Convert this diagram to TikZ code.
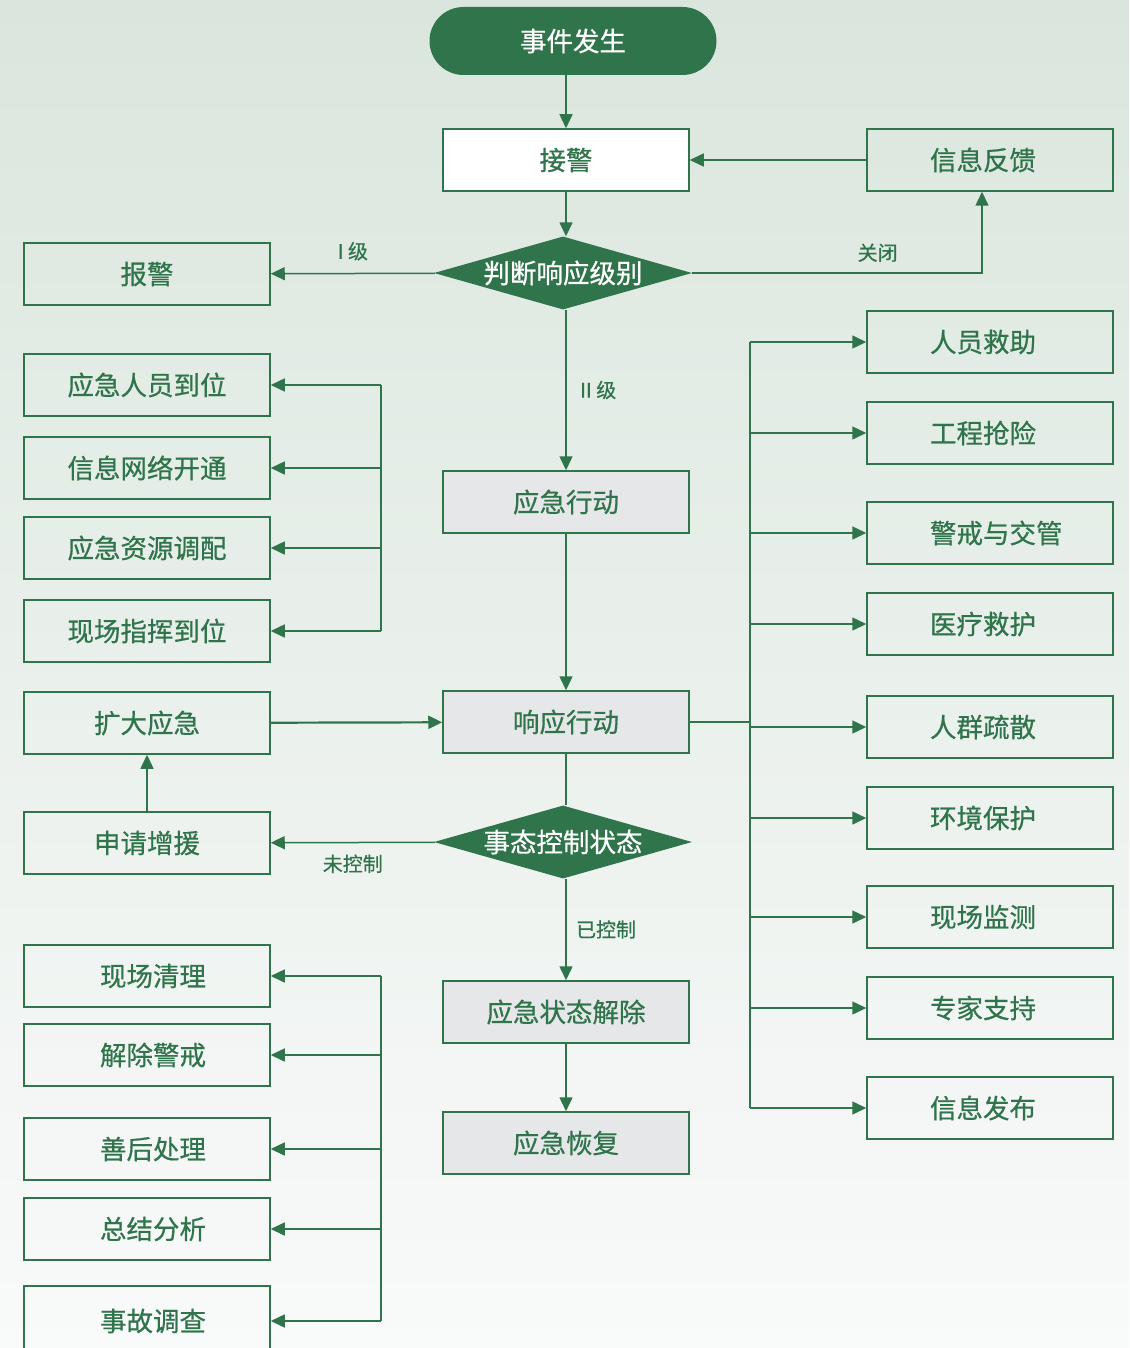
\documentclass[tikz,border=0pt]{standalone}
\usepackage{fontspec}
\setmainfont{Noto Sans CJK SC}[FakeBold=0.6]
\usetikzlibrary{shapes.geometric,arrows.meta,positioning}
\definecolor{flowgreen}{HTML}{2F744A}
\definecolor{boxgray}{HTML}{E6E7E9}
\definecolor{bgtop}{HTML}{DAE6DD}
\definecolor{bgbottom}{HTML}{F9FAFA}

\begin{document}
\begin{tikzpicture}[x=1pt,y=-1pt,
	stepbox/.style={rectangle, draw=flowgreen, line width=1.5pt, minimum width=246pt, minimum height=62pt, inner sep=0pt, text=flowgreen, font=\fontsize{26.5}{30}\selectfont},
	rightbox/.style={stepbox, text width=120pt, align=left},
	actbox/.style={stepbox, fill=boxgray},
	startnode/.style={rectangle, rounded corners=34pt, fill=flowgreen, minimum width=287pt, minimum height=68pt, text=white, font=\fontsize{26.5}{30}\selectfont},
	decnode/.style={diamond, aspect=3.6, fill=flowgreen, inner sep=0pt, minimum width=258pt, minimum height=73pt, text=white, font=\fontsize{26.5}{30}\selectfont},
	lbl/.style={text=flowgreen, font=\fontsize{20}{24}\selectfont},
	line/.style={draw=flowgreen, line width=1.5pt},
	flow/.style={line, -{Triangle[length=14pt,width=13pt]}},
	]
	
	\useasboundingbox (0,0) rectangle (1129,1348);
	\shade[top color=bgtop, bottom color=bgbottom] (0,0) rectangle (1129,1348);
	
	%Nodes
	\node[startnode] (Start) at (573,41) {事件发生};
	\node[stepbox, fill=white] (Receive) at (566,160) {接警};
	\node[rightbox] (Feedback) at (990,160) {信息反馈};
	\node[decnode] (Judge) at (563,273) {判断响应级别};
	\node[stepbox] (Alarm) at (147,274) {报警};
	\node[actbox] (EmergAct) at (566,502) {应急行动};
	\node[actbox] (RespAct) at (566,722) {响应行动};
	\node[decnode] (Control) at (563,842) {事态控制状态};
	\node[actbox] (Release) at (566,1012) {应急状态解除};
	\node[actbox] (Recover) at (566,1143) {应急恢复};
	
	\node[stepbox] (Staff) at (147,385) {应急人员到位};
	\node[stepbox] (Network) at (147,468) {信息网络开通};
	\node[stepbox] (Resource) at (147,548) {应急资源调配};
	\node[stepbox] (Command) at (147,631) {现场指挥到位};
	\node[stepbox] (Expand) at (147,723) {扩大应急};
	\node[stepbox] (Reinforce) at (147,843) {申请增援};
	
	\node[stepbox] (Cleanup) at (147,976) {\hspace*{12pt}现场清理};
	\node[stepbox] (Lift) at (147,1055) {\hspace*{12pt}解除警戒};
	\node[stepbox] (Aftermath) at (147,1149) {\hspace*{12pt}善后处理};
	\node[stepbox] (Summary) at (147,1229) {\hspace*{12pt}总结分析};
	\node[stepbox, minimum height=70pt] (Inquiry) at (147,1321) {\hspace*{12pt}事故调查};
	
	\node[rightbox] (Rescue) at (990,342) {人员救助};
	\node[rightbox] (Repair) at (990,433) {工程抢险};
	\node[rightbox] (Traffic) at (990,533) {警戒与交管};
	\node[rightbox] (Medical) at (990,624) {医疗救护};
	\node[rightbox] (Evacuate) at (990,727) {人群疏散};
	\node[rightbox] (Environ) at (990,818) {环境保护};
	\node[rightbox] (Monitor) at (990,917) {现场监测};
	\node[rightbox] (Expert) at (990,1008) {专家支持};
	\node[rightbox] (Publish) at (990,1108) {信息发布};
	
	\coordinate (LeftBus) at (381,0);
	\coordinate (RightBus) at (750,0);
	
	%Lines
	\draw[flow] (Start.south -| Receive) -- (Receive);
	\draw[flow] (Feedback) -- (Receive);
	\draw[flow] (Receive) -- (Receive |- Judge.north);
	\draw[flow] (Judge) -- node[lbl, above=9pt] {I 级} (Alarm);
	\draw[flow] (Judge.east) -| node[lbl, pos=0.32, above=7pt] {关闭} ([xshift=-8pt]Feedback.south);
	\draw[flow] (Judge.south -| EmergAct) -- node[lbl, right=10pt] {II 级} (EmergAct);
	\draw[flow] (EmergAct) -- (RespAct);
	\draw[flow, line width=2.2pt] (Expand) -- (RespAct);
	\draw[flow] (Reinforce) -- (Expand);
	\draw[line] (RespAct) -- (Control.north -| RespAct);
	\draw[flow] (Control) -- node[lbl, below=8pt] {未控制} (Reinforce);
	\draw[flow] (Control.south -| Release) -- node[lbl, right=6pt] {已控制} (Release);
	\draw[flow] (Release) -- (Recover);
	
	\draw[line] (LeftBus |- Staff.east) -- (LeftBus |- Command.east);
	\draw[flow] (LeftBus |- Staff.east) -- (Staff.east);
	\draw[flow] (LeftBus |- Network.east) -- (Network.east);
	\draw[flow] (LeftBus |- Resource.east) -- (Resource.east);
	\draw[flow] (LeftBus |- Command.east) -- (Command.east);
	
	\draw[line] (LeftBus |- Cleanup.east) -- (LeftBus |- Inquiry.east);
	\draw[flow] (LeftBus |- Cleanup.east) -- (Cleanup.east);
	\draw[flow] (LeftBus |- Lift.east) -- (Lift.east);
	\draw[flow] (LeftBus |- Aftermath.east) -- (Aftermath.east);
	\draw[flow] (LeftBus |- Summary.east) -- (Summary.east);
	\draw[flow] (LeftBus |- Inquiry.east) -- (Inquiry.east);
	
	\draw[line] (RespAct) -- (RightBus |- RespAct);
	\draw[line] (RightBus |- Rescue.west) -- (RightBus |- Publish.west);
	\draw[flow] (RightBus |- Rescue.west) -- (Rescue.west);
	\draw[flow] (RightBus |- Repair.west) -- (Repair.west);
	\draw[flow] (RightBus |- Traffic.west) -- (Traffic.west);
	\draw[flow] (RightBus |- Medical.west) -- (Medical.west);
	\draw[flow] (RightBus |- Evacuate.west) -- (Evacuate.west);
	\draw[flow] (RightBus |- Environ.west) -- (Environ.west);
	\draw[flow] (RightBus |- Monitor.west) -- (Monitor.west);
	\draw[flow] (RightBus |- Expert.west) -- (Expert.west);
	\draw[flow] (RightBus |- Publish.west) -- (Publish.west);
	
\end{tikzpicture}
\end{document}
